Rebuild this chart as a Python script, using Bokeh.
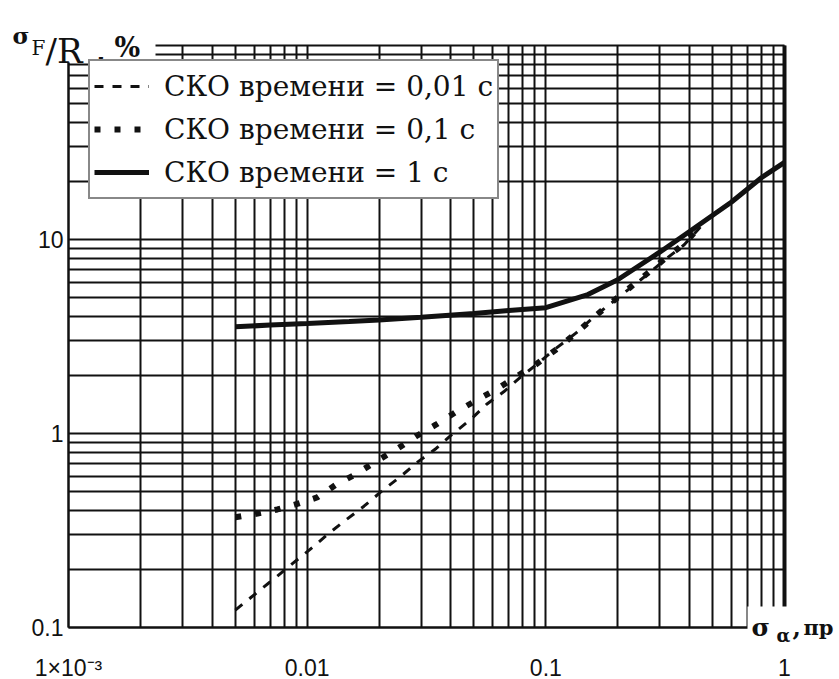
from bokeh.plotting import figure
from bokeh.models import (Range1d, FixedTicker, Legend, LegendItem, Label,
                          BoxAnnotation, LogAxis)
from bokeh.embed import file_html
from bokeh.resources import INLINE

# Relative error of the range estimate vs. angular RMS, for three time RMS values
x_t001 = [0.005, 0.0075, 0.0087, 0.0105, 0.0123, 0.0146, 0.0173, 0.0206, 0.0245,
          0.0291, 0.0347, 0.0405, 0.0484, 0.0567, 0.0666, 0.0786, 0.092, 0.11,
          0.134, 0.159, 0.19, 0.227, 0.266, 0.313, 0.38, 0.45]
y_t001 = [0.123, 0.184, 0.214, 0.258, 0.305, 0.36, 0.422, 0.506, 0.597,
          0.714, 0.837, 0.99, 1.18, 1.42, 1.64, 1.96, 2.28, 2.74,
          3.3, 3.99, 4.75, 5.65, 6.6, 7.8, 9.4, 11.8]

x_t01 = [0.005, 0.0062, 0.0075, 0.009, 0.011, 0.0133, 0.016, 0.0195, 0.0237,
         0.0286, 0.0346, 0.042, 0.051, 0.062, 0.075, 0.09, 0.11, 0.134, 0.16,
         0.19, 0.227, 0.266, 0.313, 0.38, 0.45]
y_t01 = [0.37, 0.387, 0.406, 0.432, 0.468, 0.548, 0.617, 0.72, 0.83,
         0.968, 1.11, 1.29, 1.48, 1.69, 1.96, 2.25, 2.7, 3.3, 4.0,
         4.77, 5.7, 6.68, 7.9, 9.5, 12.0]

x_t1 = [0.005, 0.007, 0.01, 0.015, 0.02, 0.03, 0.05, 0.07, 0.1, 0.15, 0.2,
        0.3, 0.4, 0.6, 0.8, 1.0]
y_t1 = [3.55, 3.62, 3.69, 3.78, 3.85, 3.97, 4.15, 4.3, 4.45, 5.2, 6.2,
        8.6, 11.0, 15.6, 20.8, 25.0]

x_major = [0.001, 0.01, 0.1, 1.0]
x_labels = ["1×10⁻³", "0.01", "0.1", "1"]
y_major = [0.1, 1.0, 10.0, 100.0]
y_labels = ["0.1", "1", "10", ""]
legend_labels = ["СКО времени = 0,01 с", "СКО времени = 0,1 с", "СКО времени = 1 с"]

X_LO, X_HI = 1e-3, 1.0
Y_LO, Y_HI = 0.1, 100.0

W, H = 839, 679
FL, FR, FT, FB = 68, 784, 45, 627   # where the chart box sits on the canvas, px

# The data frame covers the whole canvas; ranges are padded so that the
# chart box lands at FL..FR x FT..FB, leaving room for the captions.
DX = (FR - FL) / 3.0
DY = (FB - FT) / 3.0
x_range = Range1d(10 ** (-3 - FL / DX), 10 ** ((W - FR) / DX))
y_range = Range1d(10 ** (-1 - (H - FB) / DY), 10 ** (2 + FT / DY))


def minor_ticks(lo_exp, hi_exp):
    return [m * 10.0 ** e for e in range(lo_exp, hi_exp) for m in range(2, 10)]


def sx(cx):
    return cx


def sy(cy):
    return H - cy


p = figure(width=W, height=H, x_axis_type="log", y_axis_type="log",
           x_range=x_range, y_range=y_range,
           output_backend="svg", toolbar_location=None,
           min_border=0, min_border_left=0, min_border_right=0,
           min_border_top=0, min_border_bottom=0)
p.title.visible = False
p.background_fill_color = "white"
p.border_fill_color = "white"
p.outline_line_color = None

p.xaxis.ticker = FixedTicker(ticks=x_major, minor_ticks=minor_ticks(-3, 0))
p.yaxis.ticker = FixedTicker(ticks=y_major, minor_ticks=minor_ticks(-1, 2))
p.xaxis.major_label_overrides = dict(zip(x_major, x_labels))
p.yaxis.major_label_overrides = dict(zip(y_major, y_labels))
p.xaxis.fixed_location = Y_LO
p.yaxis.fixed_location = X_LO
p.xaxis.bounds = (X_LO, X_HI)
p.yaxis.bounds = (Y_LO, Y_HI)

tick_font = "Liberation Sans"
for ax in (p.xaxis, p.yaxis):
    ax.axis_line_color = "#111"
    ax.axis_line_width = 2
    ax.major_tick_line_color = None
    ax.minor_tick_line_color = None
    ax.major_tick_out = 0
    ax.minor_tick_out = 0
    ax.major_tick_in = 0
    ax.minor_tick_in = 0
    ax.major_label_text_font = tick_font
    ax.major_label_text_font_size = "23px"
    ax.major_label_text_color = "#111"
p.xaxis.major_label_standoff = 27
p.yaxis.major_label_standoff = 5

# heavy right-hand border at x = 1
right_edge = LogAxis(fixed_location=X_HI, bounds=(Y_LO, Y_HI),
                     ticker=FixedTicker(ticks=[]),
                     axis_line_color="#111", axis_line_width=4,
                     major_tick_line_color=None, minor_tick_line_color=None,
                     major_label_text_alpha=0)
p.add_layout(right_edge, "right")

grid_has_cross = "cross_bounds" in p.xgrid[0].properties()
for g in (p.xgrid, p.ygrid):
    g.grid_line_color = "#111"
    g.grid_line_width = 2
    g.grid_line_alpha = 1
    g.minor_grid_line_color = "#111"
    g.minor_grid_line_width = 2
    g.minor_grid_line_alpha = 1
if grid_has_cross:
    p.xgrid.bounds = (X_LO, X_HI)
    p.xgrid.cross_bounds = (Y_LO, Y_HI)
    p.ygrid.bounds = (Y_LO, Y_HI)
    p.ygrid.cross_bounds = (X_LO, X_HI)
else:
    p.xgrid.visible = False
    p.ygrid.visible = False
    gx = x_major + minor_ticks(-3, 0)
    gy = y_major + minor_ticks(-1, 2)
    p.segment(x0=gx, y0=[Y_LO] * len(gx), x1=gx, y1=[Y_HI] * len(gx),
              line_color="#111", line_width=2, level="underlay")
    p.segment(x0=[X_LO] * len(gy), y0=gy, x1=[X_HI] * len(gy), y1=gy,
              line_color="#111", line_width=2, level="underlay")

r1 = p.line(x_t001, y_t001, line_color="#111", line_width=3, line_dash="9 9")
r2 = p.line(x_t01, y_t01, line_color="#111", line_width=6, line_dash="6 14")
r3 = p.line(x_t1, y_t1, line_color="#111", line_width=5)

legend = Legend(
    items=[LegendItem(label=legend_labels[0], renderers=[r1]),
           LegendItem(label=legend_labels[1], renderers=[r2]),
           LegendItem(label=legend_labels[2], renderers=[r3])],
    location=(88, sy(199)),
    border_line_color="#111", border_line_width=2,
    background_fill_color="white", background_fill_alpha=1,
    margin=0, padding=4, spacing=1,
    glyph_width=55, glyph_height=42, label_height=42, label_standoff=15,
    label_text_font="DejaVu Serif", label_text_font_size="28px",
    label_text_color="#111",
)
p.add_layout(legend)

# white backing behind the axis captions
p.add_layout(BoxAnnotation(left=sx(0), right=sx(155), top=sy(0), bottom=sy(62),
                           left_units="screen", right_units="screen",
                           top_units="screen", bottom_units="screen",
                           fill_color="white", fill_alpha=1, line_color=None))
p.add_layout(BoxAnnotation(left=sx(747), right=sx(W), top=sy(606), bottom=sy(640),
                           left_units="screen", right_units="screen",
                           top_units="screen", bottom_units="screen",
                           fill_color="white", fill_alpha=1, line_color=None))


def caption(text, cx, cy, size, bold=False):
    p.add_layout(Label(x=sx(cx), y=sy(cy), x_units="screen", y_units="screen",
                       text=text, text_font="DejaVu Serif", text_font_size=size,
                       text_font_style="bold" if bold else "normal",
                       text_color="#111", text_baseline="alphabetic",
                       text_align="left"))


# y caption: sigma_F / R , %
caption("σ", 12, 35, "23px", bold=True)
caption("F", 31, 47, "20px")
caption("/R", 45, 50, "34px")
caption(",", 95, 50, "30px", bold=True)
caption("%", 114, 47, "27px", bold=True)

# x caption: sigma_alpha , пр
caption("σ", 751, 627, "25px", bold=True)
caption("α", 776, 635, "18px", bold=True)
caption(",", 792, 626, "24px", bold=True)
caption("пр", 803, 627, "21px", bold=True)

open("out.html", "w").write(file_html(p, INLINE))
